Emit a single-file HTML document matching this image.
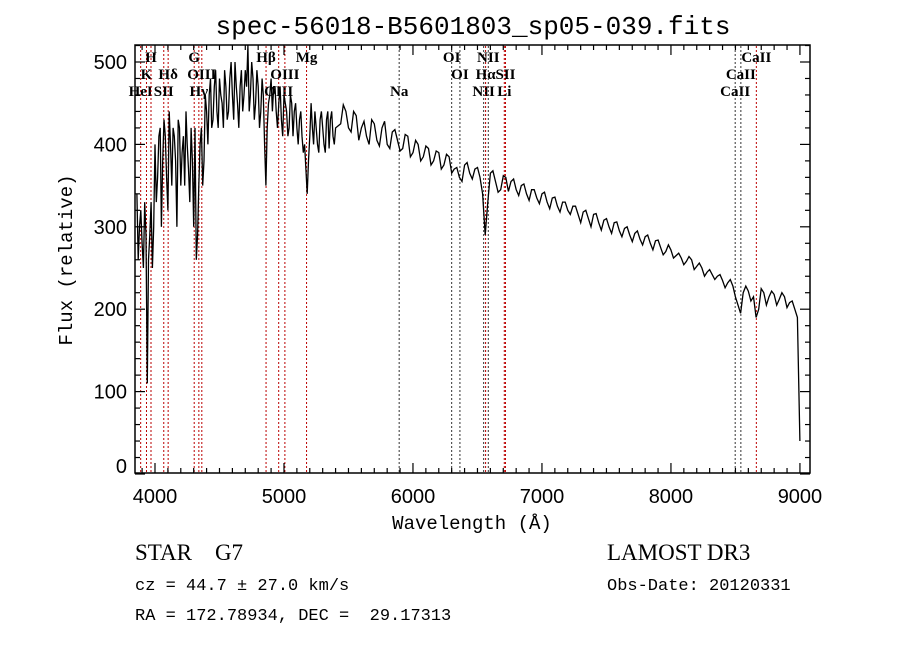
<!DOCTYPE html>
<html><head><meta charset="utf-8"><style>
body{margin:0;background:#fff}
svg{display:block}
text{font-family:"Liberation Sans",sans-serif;fill:#000}
.mono{font-family:"Liberation Mono",monospace}
.ser{font-family:"Liberation Serif",serif;font-size:15px;font-weight:bold}
.big{font-family:"Liberation Serif",serif;font-size:23px}
</style></head><body>
<svg id="chart" width="900" height="649" viewBox="0 0 900 649" xmlns="http://www.w3.org/2000/svg">
<rect width="900" height="649" fill="#fff"/>
<text x="473" y="34" font-size="26" text-anchor="middle" class="mono">spec-56018-B5601803_sp05-039.fits</text>
<g id="lines"></g>
<g id="axes"></g>
<path id="spec" fill="none" stroke="#000" stroke-width="1.3"/>
<rect x="135" y="45" width="675" height="428" fill="none" stroke="#000" stroke-width="1.5"/>
<text x="472" y="529" font-size="19" text-anchor="middle" class="mono">Wavelength (Å)</text>
<text transform="translate(72,260) rotate(-90)" font-size="19" text-anchor="middle" class="mono">Flux (relative)</text>
<text x="135" y="560" class="big" xml:space="preserve">STAR    G7</text>
<text x="607" y="560" class="big">LAMOST DR3</text>
<text x="135" y="590" font-size="17" class="mono">cz = 44.7 ± 27.0 km/s</text>
<text x="607" y="590" font-size="17" class="mono">Obs-Date: 20120331</text>
<text x="135" y="620" font-size="17" class="mono" xml:space="preserve">RA = 172.78934, DEC =  29.17313</text>
</svg>
<script>
const blueStart=3860, blueStep=20;
const blueFlux=[340,300,280,330,110,290,250,400,360,420,380,410,320,400,420,380,430,350,410,440,370,420,300,260,350,420,380,440,460,420,470,440,480,450,490,430,480,460,500,450,470,440,490,520,460,480,450,470,440,460,350,450,480,470,440,450,430,460,440,420,450,440,420,430,410,400,340,410,420,440,400,430,420,390,440,430,410,420];
const blueMidStart=3870;
const blueMidFlux=[260,320,250,290,260,330,300,330,410,300,430,360,440,350,410,300,420,390,350,400,330,380,420,290,400,350,460,400,480,430,490,420,460,420,470,440,500,430,470,420,490,460,470,440,500,430,490,420,480,400,420,460,440,470,420,470,410,450,410,460,410,450,400,440,390,370,380,450,400,420,390,440,400,430,395,440,400];
const redStart=5440, redStep=40;
const redFlux=[425,440,415,435,420,410,430,405,420,400,415,405,395,410,390,400,385,395,380,390,375,385,370,360,375,365,370,360,290,365,355,345,360,355,345,350,340,345,335,340,330,335,325,330,320,325,315,318,310,315,305,308,300,305,295,298,290,292,285,288,280,283,275,270,272,265,262,258,260,252,250,245,242,240,235,232,228,205,220,222,215,200,220,215,218,212,215,208,200,40];
const redMidStart=5460;
const redMidFlux=[448,420,440,405,428,400,425,398,428,395,418,392,412,385,405,380,398,375,392,370,388,365,372,355,378,358,372,340,330,368,342,362,343,358,338,352,332,345,328,342,322,336,318,330,315,325,305,320,300,316,296,310,292,306,288,300,282,295,278,290,272,284,266,278,262,268,254,264,248,256,240,248,236,242,226,236,215,195,228,210,190,225,205,222,205,220,202,210,190];
const xTicks=[4000,5000,6000,7000,8000,9000];
const yTicks=[0,100,200,300,400,500];
const lineWaves=[3889,3934,3969,4068,4102,4304,4340,4363,4861,4959,5007,5175,5893,6300,6364,6548,6563,6584,6717,6708,8498,8542,8662];
const lineNames=["HeI","K","H","SII","Hδ","G","Hγ","OIII","Hβ","OIII","OIII","Mg","Na","OI","OI","NII","Hα","NII","SII","Li","CaII","CaII","CaII"];
const lineRows=[3,2,1,3,2,1,3,2,1,3,2,1,3,1,2,3,2,1,2,3,3,2,1];
const lineRed=[1,1,1,1,1,1,1,1,1,1,1,1,0,0,0,0,1,0,1,1,0,0,1];
const X0=135,X1=810,W0=3845,W1=9078;
function xs(w){return X0+(w-W0)*(X1-X0)/(W1-W0);}
function ys(v){return 474-v*0.824;}
const NS='http://www.w3.org/2000/svg';
function mk(t,a,p){const e=document.createElementNS(NS,t);for(const k in a)e.setAttribute(k,a[k]);p.appendChild(e);return e;}
const ax=document.getElementById('axes');
for(let w=3900;w<=9000;w+=100){const x=xs(w);const L=w%1000===0?10:5;
 const t1=mk('line',{x1:x,x2:x,y1:473,y2:473-L,stroke:'#000','stroke-width':1.2},ax);
 
 
 const t2=mk('line',{x1:x,x2:x,y1:45,y2:45+L,stroke:'#000','stroke-width':1.2},ax);
 
 }
xTicks.forEach(w=>{const t=mk('text',{x:xs(w),y:503,'font-size':20,'text-anchor':'middle'},ax);t.textContent=w;
 
 });
for(let v=0;v<=520;v+=20){const y=ys(v);const L=v%100===0?10:5;
 const a=mk('line',{x1:135,x2:135+L,y1:y,y2:y,stroke:'#000','stroke-width':1.2},ax);
 
 
 const b=mk('line',{x1:810,x2:810-L,y1:y,y2:y,stroke:'#000','stroke-width':1.2},ax);
 
 }
yTicks.forEach(v=>{const t=mk('text',{x:127,y:Math.min(ys(v),466)+7,'font-size':20,'text-anchor':'end'},ax);t.textContent=v;
 
 });
const lg=document.getElementById('lines');
lineWaves.forEach((w,i)=>{const x=xs(w);
 const l=mk('line',{x1:x,x2:x,y1:46,y2:472,stroke:lineRed[i]?'#b00':'#333','stroke-width':1,'stroke-dasharray':'2,2'},lg);
 
 
 const t=mk('text',{x:x,y:62+(lineRows[i]-1)*17,'text-anchor':'middle'},lg);t.setAttribute('class','ser');t.textContent=lineNames[i];
 
 });
const pts=[];
blueFlux.forEach((v,i)=>pts.push([blueStart+i*blueStep,v]));
blueMidFlux.forEach((v,i)=>pts.push([blueMidStart+i*blueStep,v]));
redFlux.forEach((v,i)=>pts.push([redStart+i*redStep,v]));
redMidFlux.forEach((v,i)=>pts.push([redMidStart+i*redStep,v]));
pts.sort((a,b)=>a[0]-b[0]);
let d='';
pts.forEach((p,i)=>{d+=(i?'L':'M')+xs(p[0]).toFixed(1)+','+ys(p[1]).toFixed(1);});
document.getElementById('spec').setAttribute('d',d);
</script>
</body></html>
